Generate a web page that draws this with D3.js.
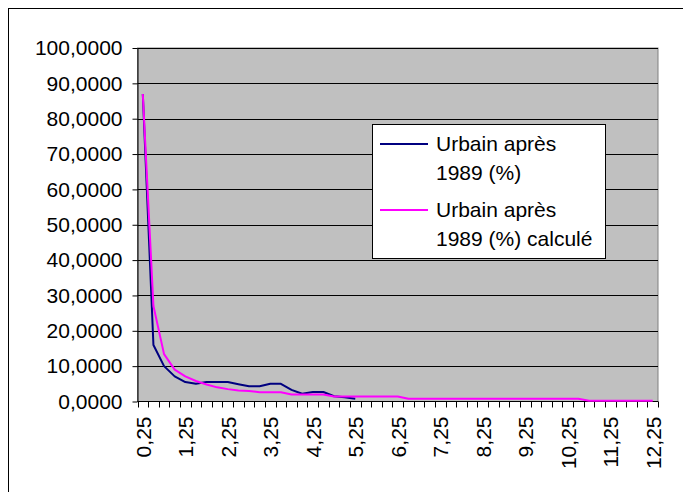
<!DOCTYPE html>
<html>
<head>
<meta charset="utf-8">
<script src="https://cdn.jsdelivr.net/npm/d3@7"></script>
<style>
  body { margin: 0; background: #fff; }
  text { font-family: "Liberation Sans", Arial, sans-serif; }
</style>
</head>
<body>
<div class="svgContainer"></div>
<script>
// distance classes (km) on the category axis
var categories = [0.25, 0.5, 0.75, 1, 1.25, 1.5, 1.75, 2, 2.25, 2.5, 2.75, 3, 3.25, 3.5, 3.75, 4,
  4.25, 4.5, 4.75, 5, 5.25, 5.5, 5.75, 6, 6.25, 6.5, 6.75, 7, 7.25, 7.5, 7.75, 8,
  8.25, 8.5, 8.75, 9, 9.25, 9.5, 9.75, 10, 10.25, 10.5, 10.75, 11, 11.25, 11.5, 11.75, 12, 12.25];

var observed = [87, 16, 10, 7.1, 5.5, 5.0, 5.5, 5.5, 5.5, 4.9, 4.3, 4.3, 5.0, 5.0, 3.3, 2.2,
  2.7, 2.7, 1.5, 1.2, 0.8];

var computed = [87, 27, 13.4, 9, 7.1, 5.8, 4.8, 4.0, 3.5, 3.1, 3.0, 2.6, 2.6, 2.6, 2.0, 2.0,
  2.0, 2.0, 1.4, 1.4, 1.4, 1.4, 1.4, 1.4, 1.4, 0.76, 0.76, 0.76, 0.76, 0.76, 0.76, 0.76,
  0.76, 0.76, 0.76, 0.76, 0.76, 0.76, 0.76, 0.76, 0.76, 0.76, 0.2, 0.2, 0.2, 0.2, 0.2, 0.2, 0.2];

var yTicks = [0, 10, 20, 30, 40, 50, 60, 70, 80, 90, 100];
var legendLabels = [["Urbain après", "1989 (%)"], ["Urbain après", "1989 (%) calculé"]];
var colors = ["#000080", "#FF00FF"];

var W = 683, H = 492;
var plot = {left: 137.5, right: 658, top: 48, bottom: 401.5};
var fontSize = 21;

function frNum(v, d) { return d3.format("." + d + "f")(v).replace(".", ","); }

var svg = d3.select(".svgContainer").append("svg")
  .attr("width", W).attr("height", H);

// chart area border
svg.append("rect").attr("x", 8.5).attr("y", 8.5).attr("width", 700).attr("height", 600)
  .attr("fill", "#fff").attr("stroke", "#000");

var x = d3.scaleBand().domain(d3.range(categories.length))
  .range([plot.left, plot.right]).padding(0);
var y = d3.scaleLinear().domain([0, 100]).range([plot.bottom, plot.top]);

svg.append("rect").attr("x", plot.left).attr("y", plot.top)
  .attr("width", plot.right - plot.left).attr("height", plot.bottom - plot.top)
  .attr("fill", "#C0C0C0").attr("stroke", "#808080");

svg.append("g").selectAll("line").data(yTicks.filter(function(d){ return d > 0; }))
  .enter().append("line")
  .attr("x1", plot.left).attr("x2", plot.right)
  .attr("y1", function(d){ return Math.round(y(d)) + 0.5; })
  .attr("y2", function(d){ return Math.round(y(d)) + 0.5; })
  .attr("stroke", "#000");

// y axis
var yAxis = svg.append("g").attr("transform", "translate(" + plot.left + ",0)")
  .call(d3.axisLeft(y).tickValues(yTicks).tickSize(5).tickSizeOuter(0).tickPadding(10)
    .tickFormat(function(d){ return frNum(d, 4); }));
yAxis.selectAll("text").attr("font-size", fontSize).attr("fill", "#000")
  .style("font-family", "Liberation Sans, Arial, sans-serif");
yAxis.selectAll("path, line").attr("stroke", "#000");

// x axis, ticks between categories, label every 4th
var xg = svg.append("g");
xg.append("line").attr("x1", plot.left).attr("x2", plot.right)
  .attr("y1", plot.bottom).attr("y2", plot.bottom).attr("stroke", "#000");
xg.selectAll("line.tick").data(d3.range(categories.length + 1)).enter().append("line")
  .attr("class", "tick")
  .attr("x1", function(i){ return Math.round(plot.left + i * x.bandwidth()) + 0.5; })
  .attr("x2", function(i){ return Math.round(plot.left + i * x.bandwidth()) + 0.5; })
  .attr("y1", plot.bottom).attr("y2", plot.bottom + 6).attr("stroke", "#000");
xg.selectAll("text").data(d3.range(0, categories.length, 4)).enter().append("text")
  .attr("transform", function(i){
    return "translate(" + (x(i) + x.bandwidth() / 2 + 8) + "," + (plot.bottom + 15) + ") rotate(-90)";
  })
  .attr("text-anchor", "end").attr("font-size", fontSize)
  .text(function(i){ return frNum(categories[i], 2); });

var line = d3.line()
  .x(function(d, i){ return x(i) + x.bandwidth() / 2; })
  .y(function(d){ return y(d); });

[observed, computed].forEach(function(s, k){
  svg.append("path").datum(s).attr("d", line)
    .attr("fill", "none").attr("stroke", colors[k]).attr("stroke-width", 2)
    .attr("stroke-linejoin", "round");
});

// legend
var lg = svg.append("g");
lg.append("rect").attr("x", 372.5).attr("y", 124.5).attr("width", 233).attr("height", 134)
  .attr("fill", "#fff").attr("stroke", "#000");
legendLabels.forEach(function(lines, k){
  var y0 = 144 + k * 66;
  lg.append("line").attr("x1", 380).attr("x2", 428).attr("y1", y0).attr("y2", y0)
    .attr("stroke", colors[k]).attr("stroke-width", 2);
  lines.forEach(function(t, j){
    lg.append("text").attr("x", 436).attr("y", y0 + 7 + j * 28.5)
      .attr("font-size", fontSize).text(t);
  });
});
</script>
</body>
</html>
